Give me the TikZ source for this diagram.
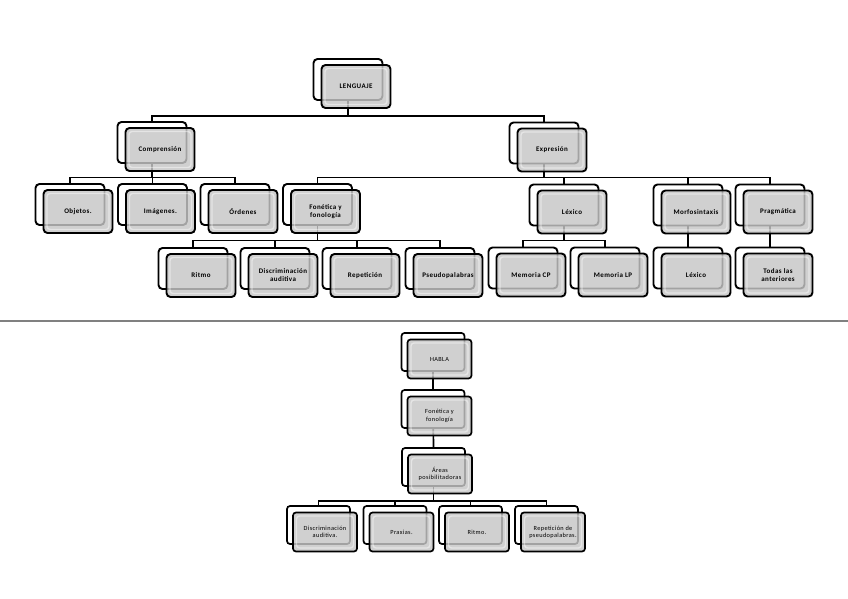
\documentclass[tikz,border=0pt]{standalone}
\usepackage{fontspec}
\setmainfont{Carlito}
\newfontfamily\boxfont[LetterSpace=6]{Carlito}
\usepackage{xcolor}
\usetikzlibrary{calc,backgrounds}
\definecolor{boxgray}{HTML}{C6C6C6}
\definecolor{sepgray}{HTML}{808080}

\begin{document}
\begin{tikzpicture}[x=1pt,y=-1pt,
  wire/.style={line width=1.9pt},
  backbox/.style={draw,line width=1.9pt,fill=white,rounded corners=4pt,
    minimum width=69pt,minimum height=41pt,inner sep=0pt},
  frontbox/.style={draw,line width=1.9pt,fill=boxgray,fill opacity=0.82,text opacity=1,
    rounded corners=4pt,minimum width=69pt,minimum height=43pt,inner sep=0pt,align=center,
    font=\boxfont\fontsize{7}{8}\selectfont\bfseries,
    path picture={\draw[white,opacity=0.45,line width=1.4pt,rounded corners=3pt]
      ($(path picture bounding box.north west)+(3.5,3.5)$) rectangle
      ($(path picture bounding box.south east)+(-3.5,-3.5)$);}}]
\useasboundingbox (0,0) rectangle (848,599);
% --- helper: back box + shifted front box -----------------------------
\def\ox{8}\def\oy{7}
\def\pair#1#2#3{%
  \node[backbox] (#1) at #2 {};
  \node[frontbox] (#1-f) at ($(#1)+(\ox,\oy)$) {#3};}
% --- LENGUAJE tree ---------------------------------------------------
\coordinate (bus1) at (0,116);
\coordinate (bus2) at (0,177.5);
\coordinate (bus3) at (0,240.5);
\foreach \n/\x/\y/\lab in {lng/348/79.5/LENGUAJE, comp/152/142.5/Comprensión, expr/544/143/Expresión,
    obj/70/204.5/Objetos., img/152.5/204.5/Imágenes., ord/235/204.5/Órdenes,
    fon/317.5/204.5/{Fonética y\\fonología}, lex/564/205/Léxico, morf/688/205/Morfosintaxis,
    prag/770/205/Pragmática, ritmo/193/268.5/Ritmo, disc/275/268.5/{Discriminación\\auditiva},
    rep/357/268.5/Repetición, pseudo/440/268.5/Pseudopalabras, memcp/523/268/Memoria CP,
    memlp/605/268/Memoria LP, lexb/688/268/Léxico, todas/770/268/{Todas las\\anteriores}} {
  \pair{\n}{(\x,\y)}{\lab}
}
\begin{scope}[on background layer]
\foreach \c in {comp,expr} \draw[wire] (lng) -- (lng |- bus1) -| (\c.north);
\foreach \c in {obj,img,ord} \draw[wire] (comp) -- (comp |- bus2) -| (\c.north);
\foreach \c in {fon,lex,morf,prag} \draw[wire] (expr) -- (expr |- bus2) -| (\c.north);
\foreach \c in {ritmo,disc,rep,pseudo} \draw[wire] (fon) -- (fon |- bus3) -| (\c.north);
\foreach \c in {memcp,memlp} \draw[wire] (lex) -- (lex |- bus3) -| (\c.north);
\draw[wire] (morf) -- (lexb.north);
\draw[wire] (prag) -- (todas.north);
\end{scope}
% --- separator -------------------------------------------------------
\coordinate (sepl) at (0,321);
\coordinate (sepr) at (848,321);
\draw[sepgray,line width=1.4pt] (sepl) -- (sepr);
% --- HABLA tree ------------------------------------------------------
\begin{scope}[wire/.append style={line width=1.7pt},
  backbox/.append style={minimum width=63pt,minimum height=38pt,rounded corners=3pt,line width=1.7pt},
  frontbox/.append style={minimum width=64pt,minimum height=39pt,rounded corners=3pt,line width=1.7pt,
    font=\boxfont\fontsize{6.3}{7.3}\selectfont}]
\def\ox{6.5}\def\oy{7}
\coordinate (bus4) at (0,501);
\foreach \n/\x/\y/\lab in {habla/433/352/HABLA, fonb/433/409/{Fonética y\\fonología},
    areas/433.5/467/{Áreas\\posibilitadoras}, bdisc/318.5/525/{Discriminación\\auditiva.},
    prax/395/525/Praxias., britmo/470.5/525/Ritmo., brep/546.5/525/{Repetición de\\pseudopalabras.}} {
  \pair{\n}{(\x,\y)}{\lab}
}
\begin{scope}[on background layer]
\draw[wire] (habla) -- (fonb.north);
\draw[wire] (fonb) -- (areas.north);
\foreach \c in {bdisc,prax,britmo,brep} \draw[wire] (areas) -- (areas |- bus4) -| (\c.north);
\end{scope}
\end{scope}
\end{tikzpicture}
\end{document}
